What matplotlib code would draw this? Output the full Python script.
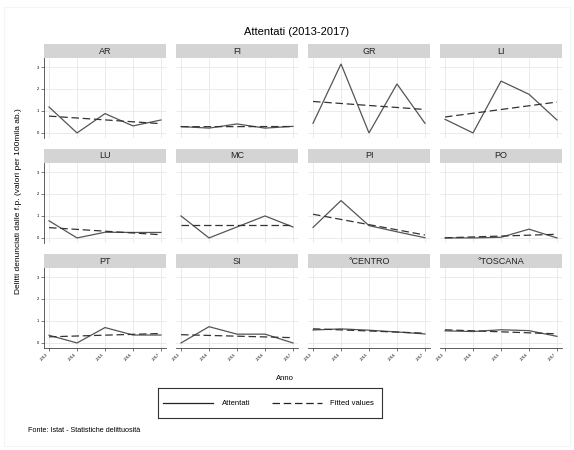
import matplotlib
matplotlib.use("Agg")
import matplotlib.pyplot as plt
import numpy as np

plt.rcParams['font.family'] = ['Liberation Sans', 'DejaVu Sans']

years = [2013, 2014, 2015, 2016, 2017]
regions = ['AR', 'FI', 'GR', 'LI',
           'LU', 'MC', 'PI', 'PO',
           'PT', 'SI', '°CENTRO', '°TOSCANA']

# attentati, valori per 100mila ab.
ar = [1.18, 0.00, 0.88, 0.32, 0.59]
fi = [0.29, 0.22, 0.41, 0.22, 0.30]
gr = [0.44, 3.14, 0.00, 2.23, 0.44]
li = [0.62, 0.00, 2.36, 1.76, 0.59]
lu = [0.78, 0.00, 0.26, 0.25, 0.25]
mc = [1.00, 0.00, 0.50, 1.00, 0.50]
pi = [0.48, 1.70, 0.56, 0.28, 0.01]
po = [0.00, 0.00, 0.03, 0.40, 0.00]
pt = [0.35, 0.00, 0.70, 0.36, 0.36]
si = [0.00, 0.74, 0.40, 0.40, 0.00]
centro = [0.59, 0.64, 0.58, 0.50, 0.41]
toscana = [0.55, 0.52, 0.60, 0.56, 0.30]
series = [ar, fi, gr, li, lu, mc, pi, po, pt, si, centro, toscana]

W, H = 574, 450
fig = plt.figure(figsize=(W / 100, H / 100), dpi=100)
fig.patch.set_facecolor('white')

# faint outer frame like the stata graph region
fig.add_artist(plt.Rectangle((4 / W, 1 - 446 / H), 566 / W, 439 / H,
                             transform=fig.transFigure, fill=False,
                             edgecolor='#f4f4f4', lw=0.8))

def px_axes(x, y, w, h):
    return fig.add_axes([x / W, 1 - (y + h) / H, w / W, h / H])

col_x = [44, 176, 308, 440]
row_y = [58, 163, 268]
pw, ph, sh = 122, 80, 14

for i, (name, vals) in enumerate(zip(regions, series)):
    r, c = divmod(i, 4)
    x0, y0 = col_x[c], row_y[r]

    # strip
    st = px_axes(x0, y0 - sh, pw, sh)
    st.set_facecolor('#d4d4d4')
    st.set_xticks([])
    st.set_yticks([])
    for s in st.spines.values():
        s.set_visible(False)
    st.text(0.5, 0.5, name, ha='center', va='center', fontsize=6.5,
            transform=st.transAxes, color='#222222')

    ax = px_axes(x0, y0, pw, ph)
    ax.set_xlim(2012.82, 2017.18)
    ax.set_ylim(-0.23, 3.41)
    ax.set_xticks(years)
    ax.set_yticks([0, 1, 2, 3])
    ax.grid(True, color='#e8e8e8', lw=0.6)
    ax.set_axisbelow(True)
    for s in ['top', 'right']:
        ax.spines[s].set_visible(False)

    fit = np.polyval(np.polyfit(years, vals, 1), years)
    ax.plot(years, vals, color='#555555', lw=0.9, solid_joinstyle='miter')
    ax.plot(years, fit, color='#333333', lw=0.9, dashes=(6, 3))

    if c == 0:
        ax.spines['left'].set_color('#444444')
        ax.spines['left'].set_linewidth(0.6)
        ax.tick_params(axis='y', labelsize=3, length=2.5, width=0.5,
                       color='#444444', pad=1)
    else:
        ax.spines['left'].set_visible(False)
        ax.tick_params(axis='y', left=False, labelleft=False)
    if r == 2:
        ax.spines['bottom'].set_color('#444444')
        ax.spines['bottom'].set_linewidth(0.6)
        ax.tick_params(axis='x', labelsize=3, length=2.5, width=0.5,
                       color='#444444', pad=1)
        for lab in ax.get_xticklabels():
            lab.set_rotation(45)
            lab.set_ha('right')
            lab.set_va('top')
    else:
        ax.spines['bottom'].set_visible(False)
        ax.tick_params(axis='x', bottom=False, labelbottom=False)

fig.text(297 / W, 1 - 32 / H, 'Attentati (2013-2017)', ha='center',
         va='center', fontsize=8)
fig.text(19 / W, 1 - 201 / H,
         'Delitti denunciati dalle f.p. (valori per 100mila ab.)',
         rotation=90, ha='center', va='center', fontsize=6)
fig.text(285 / W, 1 - 378 / H, 'Anno', ha='center', va='center', fontsize=5.5)
fig.text(28 / W, 1 - 431 / H, 'Fonte: Istat - Statistiche delittuosità',
         ha='left', va='center', fontsize=5.2)

# legend box
lg = px_axes(158, 388, 224, 30)
lg.set_xlim(0, 224)
lg.set_ylim(30, 0)
lg.set_xticks([])
lg.set_yticks([])
for s in lg.spines.values():
    s.set_linewidth(0.8)
    s.set_color('#333333')
lg.plot([5, 55], [15, 15], color='#222222', lw=0.9)
lg.text(64, 15.5, 'Attentati', va='center', fontsize=5.5)
lg.plot([114, 164], [15, 15], color='#222222', lw=0.9, dashes=(6, 3))
lg.text(172, 15.5, 'Fitted values', va='center', fontsize=5.5)

fig.savefig('out.png', dpi=100, facecolor='white')
